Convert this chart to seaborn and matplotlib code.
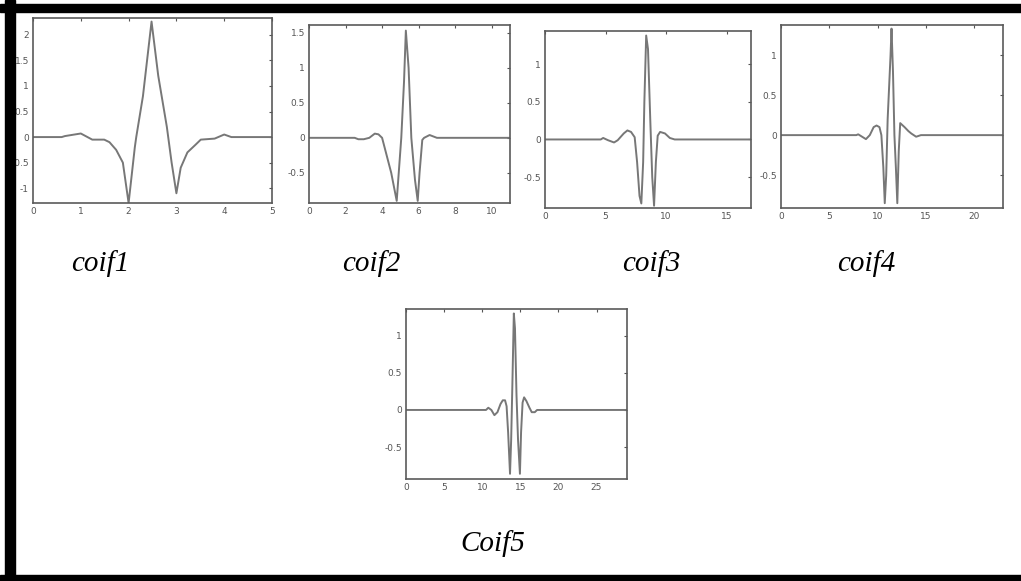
import numpy as np
import pandas as pd
import matplotlib
matplotlib.use("Agg")
import matplotlib.pyplot as plt
import matplotlib.ticker as mticker
from matplotlib.patches import Rectangle
import seaborn as sns

W, H = 1021, 581

# ---------------- data (knots of each wavelet) ----------------
coif1_x = [0, 0.6, 0.67, 1.0, 1.24, 1.49, 1.6, 1.74, 1.88, 2.0, 2.13, 2.16, 2.3, 2.48,
           2.62, 2.8, 2.9, 3.0, 3.09, 3.23, 3.4, 3.51, 3.8, 4.0, 4.15, 5]
coif1_y = [0, 0, 0.02, 0.07, -0.05, -0.05, -0.1, -0.25, -0.5, -1.29, -0.2, 0.0, 0.8, 2.26,
           1.2, 0.2, -0.5, -1.1, -0.6, -0.3, -0.15, -0.05, -0.03, 0.05, 0.0, 0]

coif2_x = [0, 2.5, 2.7, 3.0, 3.3, 3.5, 3.6, 3.8, 4.0, 4.2, 4.5, 4.8, 5.05, 5.2, 5.3,
           5.45, 5.6, 5.8, 5.95, 6.05, 6.2, 6.3, 6.6, 6.8, 7.0, 11]
coif2_y = [0, 0, -0.02, -0.02, 0, 0.04, 0.06, 0.05, 0, -0.2, -0.5, -0.9, 0, 0.8, 1.53,
           1.0, 0, -0.6, -0.9, -0.5, -0.03, 0, 0.04, 0.02, 0, 0]

coif3_x = [0, 4.6, 4.8, 5.2, 5.7, 6.0, 6.5, 6.8, 7.1, 7.4, 7.6, 7.8, 7.95, 8.1, 8.2, 8.35,
           8.5, 8.7, 8.85, 9.0, 9.15, 9.3, 9.5, 9.9, 10.3, 10.7, 17]
coif3_y = [0, 0, 0.02, -0.01, -0.04, -0.01, 0.08, 0.12, 0.1, 0.03, -0.3, -0.75, -0.85, -0.3,
           0.5, 1.38, 1.2, 0.2, -0.5, -0.88, -0.3, 0.05, 0.1, 0.08, 0.02, 0, 0]

coif4_x = [0, 7.8, 8.0, 8.4, 8.8, 9.2, 9.6, 9.9, 10.2, 10.4, 10.6, 10.75, 10.9, 11.05,
           11.35, 11.45, 11.6, 11.75, 11.9, 12.05, 12.2, 12.35, 12.8, 13.2, 13.5, 14.0, 14.5, 23]
coif4_y = [0, 0, 0.01, -0.02, -0.05, 0, 0.1, 0.12, 0.1, 0, -0.4, -0.85, -0.5, 0.2,
           1.0, 1.33, 0.8, 0, -0.4, -0.85, -0.2, 0.15, 0.1, 0.05, 0.02, -0.02, 0, 0]

coif5_x = [0, 10.5, 10.8, 11.2, 11.6, 12.0, 12.4, 12.7, 13.0, 13.2, 13.4, 13.65, 13.8,
           13.95, 14.15, 14.3, 14.5, 14.7, 14.95, 15.1, 15.3, 15.5, 15.8, 16.2, 16.5, 16.9, 17.2, 29]
coif5_y = [0, 0, 0.03, 0, -0.07, -0.03, 0.08, 0.13, 0.13, 0.05, -0.3, -0.86, -0.4,
           0.3, 1.3, 1.1, 0.2, -0.4, -0.86, -0.3, 0.1, 0.17, 0.12, 0.03, -0.03, -0.03, 0, 0]

names = ["coif1", "coif2", "coif3", "coif4", "Coif5"]
xlims = [(0, 5), (0, 11), (0, 17), (0, 23), (0, 29)]
ylims = [(-1.29, 2.33), (-0.93, 1.61), (-0.91, 1.44), (-0.91, 1.375), (-0.93, 1.36)]
xticks = [[0, 1, 2, 3, 4, 5], [0, 2, 4, 6, 8, 10], [0, 5, 10, 15],
          [0, 5, 10, 15, 20], [0, 5, 10, 15, 20, 25]]
yticks = [[-1, -0.5, 0, 0.5, 1, 1.5, 2], [-0.5, 0, 0.5, 1, 1.5], [-0.5, 0, 0.5, 1],
          [-0.5, 0, 0.5, 1], [-0.5, 0, 0.5, 1]]
curves = [(coif1_x, coif1_y), (coif2_x, coif2_y), (coif3_x, coif3_y),
          (coif4_x, coif4_y), (coif5_x, coif5_y)]

# ---------------- layout (pixel boxes: left, top, right, bottom) ----------------
boxes = [(33, 18, 272, 203), (309, 25, 510, 203), (545, 31, 751, 208),
         (781, 25, 1003, 208), (406, 309, 627, 479)]
label_pos = [(100, 264), (371, 264), (651, 264), (866, 264), (493, 544)]

sns.set_style("white")
plt.rcParams['font.family'] = ['DejaVu Sans']
plt.rcParams['axes.unicode_minus'] = False

fig = plt.figure(figsize=(W / 100, H / 100), dpi=100)


def px_box(l, t, r, b):
    return [l / W, 1 - b / H, (r - l) / W, (b - t) / H]


for i, (cx, cy) in enumerate(curves):
    ax = fig.add_axes(px_box(*boxes[i]))
    df = pd.DataFrame({"x": cx, "y": cy})
    sns.lineplot(data=df, x="x", y="y", ax=ax, color="#777777", linewidth=1.4,
                 estimator=None, sort=False)
    ax.set_xlim(*xlims[i])
    ax.set_ylim(*ylims[i])
    ax.set_xticks(xticks[i])
    ax.set_yticks(yticks[i])
    ax.xaxis.set_major_formatter(mticker.FormatStrFormatter('%g'))
    ax.yaxis.set_major_formatter(mticker.FormatStrFormatter('%g'))
    ax.set_xlabel("")
    ax.set_ylabel("")
    ax.tick_params(direction="in", length=2.5, width=0.8, colors="#555555",
                   labelsize=6.5, top=True, right=True, pad=3)
    for s in ax.spines.values():
        s.set_color("#5a5a5a")
        s.set_linewidth(1.2)
    lx, ly = label_pos[i]
    fig.text(lx / W, 1 - ly / H, names[i], ha="center", va="center",
             fontsize=21, style="italic", family=["Liberation Serif"], color="#000000")

# black frame round the figure (left, top, bottom)
frame = [(5, 0, 10, 581), (0, 4, 1021, 8), (0, 575, 1021, 6)]
for (x0, y0, w, h) in frame:
    fig.patches.append(Rectangle((x0 / W, 1 - (y0 + h) / H), w / W, h / H,
                                 transform=fig.transFigure, color="black", zorder=10))

fig.savefig("out.png", dpi=100)
